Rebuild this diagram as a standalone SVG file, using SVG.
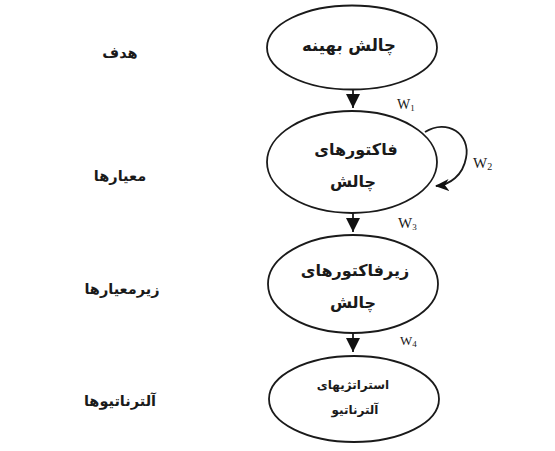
<svg xmlns="http://www.w3.org/2000/svg" width="555" height="451" viewBox="0 0 555 451">
<style>
.node ellipse{fill:#fff;stroke:#1a1a1a;stroke-width:1.8}
.fa{font-family:"DejaVu Sans",sans-serif;font-weight:bold;fill:#1a1a1a;text-anchor:middle}
.w{font-family:"Liberation Serif",serif;fill:#1a1a1a}
.conn line,.conn path{stroke:#1a1a1a;stroke-width:1.8;fill:none}
</style>
<defs>
<marker id="tri" markerUnits="userSpaceOnUse" markerWidth="14" markerHeight="14" viewBox="0 0 14 14" refX="14" refY="7" orient="auto">
<path d="M0,0 L14,7 L0,14 Z" fill="#111"/>
</marker>
<marker id="barb" markerUnits="userSpaceOnUse" markerWidth="14" markerHeight="12" viewBox="0 0 14 12" refX="13" refY="6" orient="auto">
<path d="M0,0 L14,6 L0,12 L4,6 Z" fill="#111"/>
</marker>
</defs>
<rect width="555" height="451" fill="#fff"/>
<g id="level-labels">
<text class="fa" x="120" y="58" font-size="14.5">هدف</text>
<text class="fa" x="120" y="181" font-size="14.5">معیارها</text>
<text class="fa" x="122" y="294" font-size="14.5">زیرمعیارها</text>
<text class="fa" x="120" y="406" font-size="14.5">آلترناتیوها</text>
</g>
<g class="conn" id="connectors">
<line x1="353" y1="89" x2="353" y2="108" marker-end="url(#tri)"/>
<line x1="353" y1="213" x2="353" y2="232" marker-end="url(#tri)"/>
<line x1="353" y1="333" x2="353" y2="352" marker-end="url(#tri)"/>
<path d="M425,132 C447,118 471,134 466,158 C463,175 450,185 436,186" marker-end="url(#barb)"/>
</g>
<g id="node-goal" class="node">
<ellipse cx="352" cy="47.5" rx="85" ry="42"/>
<text class="fa" x="349" y="51" font-size="16.5">چالش بهینه</text>
</g>
<g id="node-criteria" class="node">
<ellipse cx="352" cy="162" rx="85" ry="51"/>
<text class="fa" x="356" y="155" font-size="16">فاکتورهای</text>
<text class="fa" x="353" y="187" font-size="16">چالش</text>
</g>
<g id="node-subcriteria" class="node">
<ellipse cx="353" cy="284" rx="85" ry="49"/>
<text class="fa" x="355" y="276" font-size="16">زیرفاکتورهای</text>
<text class="fa" x="353" y="308" font-size="16">چالش</text>
</g>
<g id="node-alternatives" class="node">
<ellipse cx="354" cy="399" rx="85" ry="43"/>
<text class="fa" x="353" y="389" font-size="12">استراتژیهای</text>
<text class="fa" x="355" y="414" font-size="12">آلترناتیو</text>
</g>
<g id="weights">
<text class="w" x="397" y="109" font-size="14">W<tspan font-size="9" dy="2">1</tspan></text>
<text class="w" x="473" y="168" font-size="15">W<tspan font-size="10" dy="2">2</tspan></text>
<text class="w" x="398" y="228" font-size="15">W<tspan font-size="9" dy="2">3</tspan></text>
<text class="w" x="400" y="345" font-size="13">W<tspan font-size="9" dy="2">4</tspan></text>
</g>
</svg>
